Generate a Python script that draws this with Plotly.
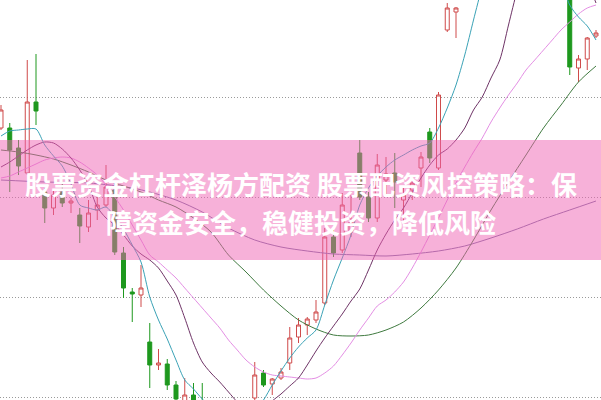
import plotly.graph_objects as go

# ---- candle data (day index, OHLC prices) ----
days = list(range(69))
opens = [12.69, 12.69, 12.49, 12.24, 12.95, 12.05, 11.89, 12.05, 11.94, 11.82,
         11.70, 11.87, 11.92, 12.07, 11.44, 11.05, 11.02, 10.55, 10.32, 10.33,
         10.12, 9.95, 10.02, 9.95, 9.87, 9.72, 9.57, 9.67, 9.77, 9.99,
         10.24, 10.13, 10.19, 10.34, 10.60, 10.72, 10.77, 10.94, 11.60, 11.47,
         11.65, 12.44, 12.00, 11.79, 12.17, 12.24, 11.97, 12.07, 12.29, 12.65,
         12.29, 13.67, 13.85, 14.07, 14.27, 14.52, 14.42, 14.67, 14.82, 14.72,
         14.57, 14.47, 14.62, 14.52, 14.37, 14.27, 13.29, 13.38, 13.61]
highs = [12.92, 12.74, 12.57, 13.37, 13.43, 12.09, 12.07, 12.14, 11.99, 11.89,
         11.97, 12.00, 12.32, 12.14, 11.50, 11.09, 11.32, 10.74, 10.48, 10.38,
         10.16, 10.19, 10.14, 10.14, 9.92, 9.82, 9.77, 9.87, 9.95, 10.35,
         10.27, 10.19, 10.29, 10.70, 10.79, 10.80, 10.97, 11.69, 11.69, 12.04,
         12.02, 12.57, 12.05, 12.43, 12.40, 12.44, 12.10, 12.22, 12.45, 12.69,
         13.05, 13.94, 13.90, 14.32, 14.57, 14.67, 14.77, 14.92, 14.97, 14.82,
         14.67, 14.72, 14.72, 14.57, 14.47, 14.32, 13.42, 13.60, 13.67]
lows = [12.67, 12.05, 12.22, 12.22, 12.72, 11.74, 11.82, 11.90, 11.84, 11.54,
        11.65, 11.77, 11.90, 11.42, 10.99, 10.75, 10.90, 10.09, 10.27, 10.07,
        9.92, 9.92, 9.87, 9.77, 9.62, 9.47, 9.42, 9.52, 9.67, 9.90,
        10.10, 10.02, 10.17, 10.27, 10.54, 10.62, 10.74, 10.92, 11.40, 11.44,
        11.60, 11.97, 11.75, 11.75, 12.02, 11.89, 11.74, 11.97, 12.10, 12.34,
        12.27, 13.65, 13.59, 14.05, 14.22, 14.37, 14.37, 14.62, 14.67, 14.52,
        14.42, 14.42, 14.47, 14.32, 14.22, 13.22, 13.15, 13.27, 13.59]
closes = [12.87, 12.47, 12.31, 12.95, 12.86, 11.89, 12.02, 11.94, 11.96, 11.71,
          11.84, 11.92, 12.10, 11.45, 11.09, 11.03, 11.09, 10.32, 10.34, 10.12,
          9.98, 10.02, 9.92, 9.82, 9.72, 9.57, 9.67, 9.77, 9.92, 10.22,
          10.12, 10.18, 10.25, 10.59, 10.72, 10.78, 10.85, 11.60, 11.44, 11.92,
          11.75, 12.00, 11.79, 12.32, 12.23, 12.15, 12.02, 12.14, 12.40, 12.39,
          13.02, 13.89, 13.89, 14.27, 14.52, 14.42, 14.67, 14.82, 14.72, 14.57,
          14.47, 14.62, 14.52, 14.37, 14.27, 13.30, 13.38, 13.59, 13.64]

# ---- moving-average lines ----
ma5 = [12.61, 12.66, 12.67, 12.68, 12.68, 12.52, 12.41, 12.31, 12.13, 11.92,
       11.89, 11.87, 11.90, 11.80, 11.68, 11.52, 11.35, 11.00, 10.77, 10.58,
       10.37, 10.17, 10.08, 9.98, 9.90, 9.83, 9.77, 9.75, 9.79, 9.87,
       9.97, 10.12, 10.26, 10.39, 10.50, 10.59, 10.67, 10.92, 11.17, 11.39,
       11.62, 11.92, 12.09, 12.21, 12.30, 12.37, 12.42, 12.47, 12.51, 12.54,
       12.69, 12.89, 13.12, 13.42, 13.77, 14.12, 14.57, 14.77, 14.87, 14.92,
       14.87, 14.77, 14.62, 14.42, 14.17, 13.92, 13.80, 13.71, 13.57]
ma10 = [12.30, 12.35, 12.41, 12.47, 12.52, 12.55, 12.54, 12.48, 12.39, 12.27,
        12.12, 11.90, 11.79, 11.72, 11.62, 11.51, 11.43, 11.37, 11.29, 11.16,
        11.02, 10.79, 10.54, 10.35, 10.24, 10.15, 10.05, 9.95, 9.87, 9.85,
        9.87, 9.96, 10.03, 10.11, 10.19, 10.32, 10.46, 10.59, 10.71, 10.83,
        10.96, 11.08, 11.27, 11.47, 11.63, 11.77, 11.89, 12.04, 12.19, 12.32,
        12.42, 12.48, 12.57, 12.69, 12.87, 13.00, 13.19, 13.37, 13.72, 14.07,
        14.37, 14.57, 14.67, 14.72, 14.72, 14.62, 14.42, 14.17, 13.94]
ma20 = [12.19, 12.21, 12.25, 12.29, 12.33, 12.37, 12.39, 12.40, 12.39, 12.35,
        12.29, 12.22, 12.12, 12.00, 11.87, 11.72, 11.57, 11.42, 11.35, 11.27,
        11.19, 11.09, 10.99, 10.89, 10.79, 10.69, 10.57, 10.47, 10.37, 10.30,
        10.25, 10.22, 10.21, 10.20, 10.19, 10.18, 10.19, 10.24, 10.31, 10.42,
        10.54, 10.67, 10.79, 10.91, 10.97, 11.05, 11.15, 11.29, 11.45, 11.62,
        11.79, 11.97, 12.14, 12.30, 12.45, 12.59, 12.75, 12.89, 13.02, 13.14,
        13.27, 13.37, 13.47, 13.57, 13.67, 13.75, 13.83, 13.89, 13.92]
ma30_days = list(range(0, 69, 2))
ma30 = [12.47, 12.45, 12.42, 12.38, 12.32, 12.25, 12.17, 12.11, 12.05, 11.97,
        11.90, 11.79, 11.65, 11.42, 11.25, 11.07, 10.91, 10.77, 10.68, 10.62,
        10.61, 10.62, 10.67, 10.75, 10.89, 11.07, 11.29, 11.57, 11.87, 12.15,
        12.42, 12.69, 12.92, 13.15, 13.31]
ma60_days = [0, 5, 10, 15, 17, 20, 23, 26, 29, 32, 35, 38, 41, 44, 47, 50,
             53, 56, 59, 62, 65, 68]
ma60 = [12.17, 12.15, 12.14, 12.09, 12.05, 11.97, 11.85, 11.69, 11.57, 11.50,
        11.46, 11.43, 11.42, 11.41, 11.43, 11.46, 11.51, 11.59, 11.68, 11.78,
        11.87, 11.96]

title_line1 = "股票资金杠杆泽杨方配资 股票配资风控策略：保"
title_line2 = "障资金安全，稳健投资，降低风险"

RED = "#cf4a4a"
GREEN = "#1e981e"

fig = go.Figure()
fig.add_trace(go.Candlestick(
    x=days, open=opens, high=highs, low=lows, close=closes,
    increasing=dict(line=dict(color=RED, width=1), fillcolor="white"),
    decreasing=dict(line=dict(color=GREEN, width=1), fillcolor=GREEN),
    whiskerwidth=0, hoverinfo="skip", showlegend=False,
))

line_specs = [
    (ma60_days, ma60, "#7c6fa2"),
    (ma30_days, ma30, "#3f7a3f"),
    (days, ma20, "#e48ee4"),
    (days, ma10, "#6e3366"),
    (days, ma5, "#3aa2b6"),
]
for xs, ys, col in line_specs:
    fig.add_trace(go.Scatter(
        x=xs, y=ys, mode="lines",
        line=dict(color=col, width=1, shape="spline", smoothing=0.8),
        hoverinfo="skip", showlegend=False,
    ))

# pink overlay band
fig.add_shape(type="rect", xref="paper", yref="paper", x0=0, x1=1, y0=0.35, y1=0.65,
              fillcolor="rgba(240,100,180,0.5)", line=dict(width=0), layer="above")

font = dict(family="Noto Sans CJK SC", size=26, color="white")
fig.add_annotation(text="<b>" + title_line1 + "</b>", xref="paper", yref="paper",
                   x=0.5, y=0.5425, showarrow=False, font=font,
                   xanchor="center", yanchor="middle")
fig.add_annotation(text="<b>" + title_line2 + "</b>", xref="paper", yref="paper",
                   x=0.5, y=0.445, showarrow=False, font=font,
                   xanchor="center", yanchor="middle")

fig.update_layout(
    width=601, height=400, autosize=False,
    margin=dict(l=0, r=0, t=0, b=0, pad=0),
    paper_bgcolor="white", plot_bgcolor="white",
    showlegend=False, boxgap=0.35,
    xaxis=dict(range=[-0.114, 68.571], visible=False, showgrid=False,
               rangeslider=dict(visible=False), fixedrange=True),
    yaxis=dict(range=[9.97, 13.97], tickvals=[10, 11, 12, 13], showticklabels=False,
               showgrid=True, gridcolor="#9a9a9a", gridwidth=1, griddash="1px,2px",
               zeroline=False, showline=False, ticks="", fixedrange=True),
)

fig.write_html("out.html", config={"displayModeBar": False, "staticPlot": True},
               post_script="document.body.style.margin='0';document.body.style.padding='0';")
